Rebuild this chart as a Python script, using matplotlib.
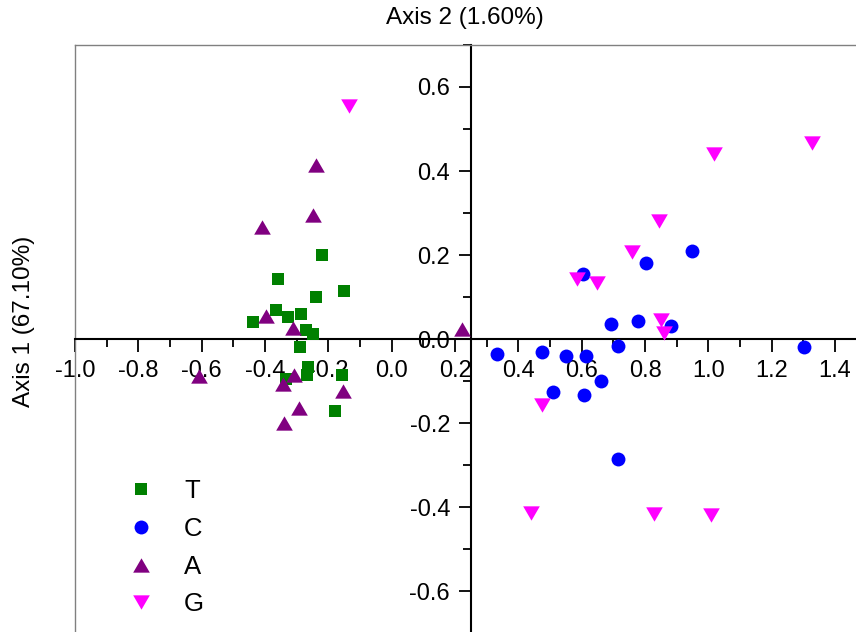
import matplotlib.pyplot as plt
from matplotlib.ticker import MultipleLocator

# pontos (x = eixo horizontal, y = eixo vertical)
t_x = [-0.221, -0.358, -0.151, -0.240, -0.365, -0.437, -0.328, -0.287,
       -0.272, -0.248, -0.290, -0.263, -0.268, -0.158, -0.334, -0.179]
t_y = [0.199, 0.143, 0.115, 0.100, 0.069, 0.040, 0.053, 0.060,
       0.021, 0.011, -0.019, -0.066, -0.085, -0.085, -0.096, -0.172]

c_x = [0.949, 0.802, 0.603, 0.692, 0.777, 0.882, 0.714, 1.302,
       0.331, 0.476, 0.550, 0.614, 0.661, 0.510, 0.607, 0.716]
c_y = [0.209, 0.181, 0.154, 0.036, 0.042, 0.031, -0.017, -0.019,
       -0.035, -0.031, -0.041, -0.041, -0.099, -0.127, -0.134, -0.285]

a_x = [-0.240, -0.247, -0.411, -0.398, -0.313, 0.223, -0.607, -0.307,
       -0.344, -0.153, -0.293, -0.340]
a_y = [0.415, 0.296, 0.266, 0.054, 0.027, 0.023, -0.088, -0.085,
       -0.107, -0.124, -0.164, -0.201]

g_x = [-0.136, 1.328, 1.019, 0.844, 0.760, 0.586, 0.649, 0.849,
       0.860, 0.476, 0.439, 0.828, 1.008]
g_y = [0.554, 0.467, 0.441, 0.280, 0.207, 0.143, 0.134, 0.046,
       0.015, -0.158, -0.414, -0.416, -0.419]

rotulos = ['T', 'C', 'A', 'G']
cores = ['#008000', '#0000FF', '#800080', '#FF00FF']

plt.rcParams['font.family'] = ['Liberation Sans', 'DejaVu Sans']
plt.rcParams['axes.unicode_minus'] = False

tri_cima = [(0, 0.86), (-1, -0.86), (1, -0.86)]
tri_baixo = [(0, -0.86), (-1, 0.86), (1, 0.86)]
marcadores = ['s', 'o', tri_cima, tri_baixo]
tamanhos = [8.6, 10, 12, 12]

fig = plt.figure(figsize=(8.56, 6.32), dpi=100)
ax = fig.add_axes([75 / 856, -0.0016, 2.47 * 316.7 / 856, 0.9304])

dados = [(t_x, t_y), (c_x, c_y), (a_x, a_y), (g_x, g_y)]
for (xs, ys), cor, m, ms in zip(dados, cores, marcadores, tamanhos):
    ax.plot(xs, ys, linestyle='none', marker=m, ms=ms, color=cor, mew=0, zorder=3)

ax.set_xlim(-1.0, 1.47)
ax.set_ylim(-0.7, 0.7)

# eixos cruzados no meio
ax.spines['left'].set_position(('data', 0.25))
ax.spines['bottom'].set_position(('data', 0))
ax.spines['right'].set_visible(False)
ax.spines['left'].set_linewidth(1.5)
ax.spines['bottom'].set_linewidth(1.5)
ax.spines['top'].set_color('#808080')
ax.spines['top'].set_linewidth(1.0)
ax.axvline(-1.0, color='#808080', lw=1.0, clip_on=False)

ax.xaxis.set_minor_locator(MultipleLocator(0.1))
ax.yaxis.set_minor_locator(MultipleLocator(0.1))
ax.set_xticks([-1.0, -0.8, -0.6, -0.4, -0.2, 0.0, 0.2, 0.4, 0.6, 0.8, 1.0, 1.2, 1.4])
ax.set_yticks([-0.6, -0.4, -0.2, 0.0, 0.2, 0.4, 0.6])
ax.xaxis.set_major_formatter(lambda v, p: f'{v:.1f}')
ax.yaxis.set_major_formatter(lambda v, p: f'{v:.1f}')

ax.tick_params(which='major', direction='out', length=9, width=1.3, labelsize=17, pad=6)
ax.tick_params(which='minor', direction='out', length=6, width=1.3)

fig.text(465 / 856, 1 - 18 / 632, 'Axis 2 (1.60%)', ha='center', va='center', fontsize=17.5)
fig.text(24 / 856, 1 - 321 / 632, 'Axis 1 (67.10%)', ha='center', va='center',
         rotation=90, fontsize=17.5)

# legenda
handles = [plt.Line2D([], [], linestyle='none', marker=m, ms=ms, color=c, mew=0)
           for m, ms, c in zip(marcadores, tamanhos, cores)]
ax.legend(handles, rotulos, loc='upper left', bbox_to_anchor=(30 / 781, 1 - 424 / 588),
          frameon=False, fontsize=18.5, handletextpad=0.68, labelspacing=0.53,
          borderaxespad=0)

fig.savefig('out.png', dpi=100)
